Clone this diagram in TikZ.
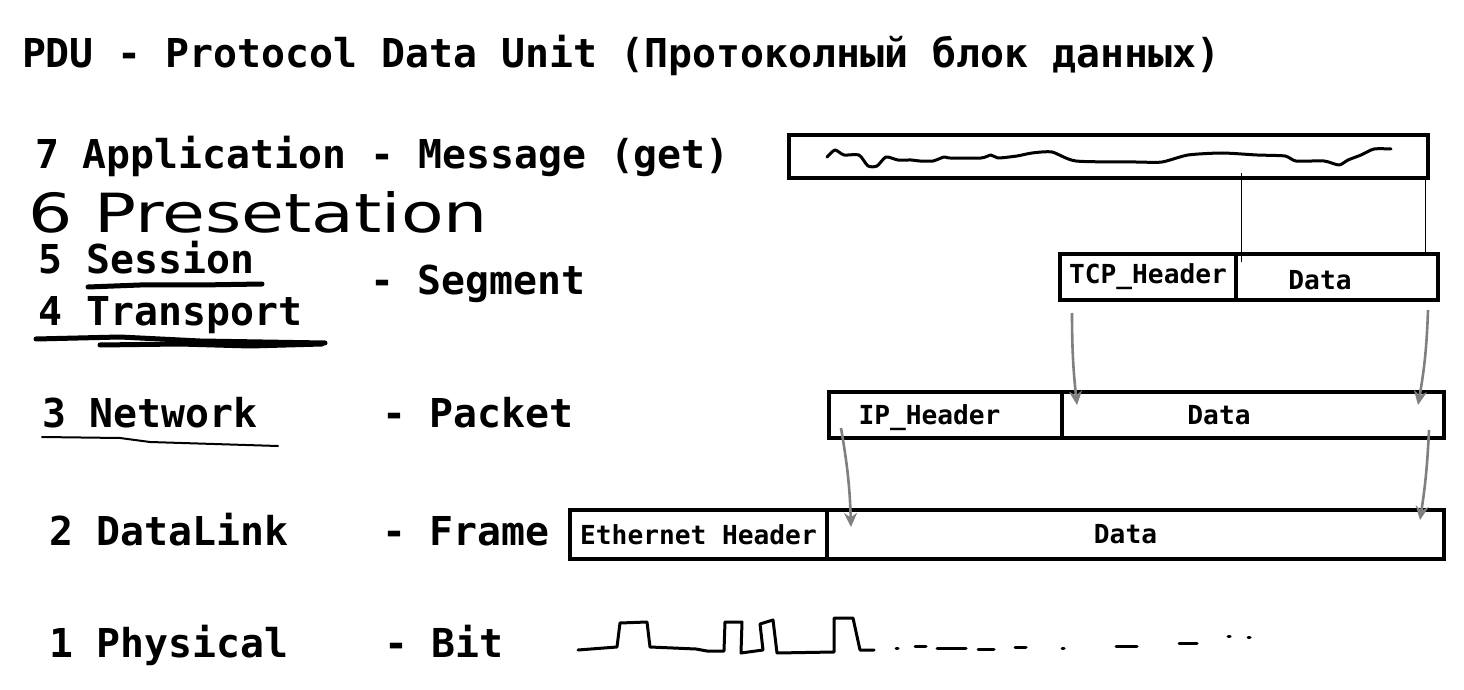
\documentclass[tikz,border=0pt]{standalone}
\usepackage{fontspec}
\setmonofont{DejaVu Sans Mono}
\newfontfamily\handfont{DejaVu Sans}
\usetikzlibrary{arrows.meta,positioning}

\begin{document}
\begin{tikzpicture}[
  x=0.5pt, y=-0.5pt,
  every node/.style={inner sep=0, outer sep=0},
  row/.style={anchor=base west, font=\ttfamily\bfseries\fontsize{19.9}{24}\selectfont},
  cell/.style={draw, line width=2.2pt, minimum height=23pt, font=\ttfamily\bfseries\fontsize{13.1}{16}\selectfont},
  every label/.style={font=\ttfamily\bfseries\fontsize{13.1}{16}\selectfont},
  link/.style={draw=gray, line width=1.3pt, -{Stealth[length=7pt,width=6.5pt]}},
  pen/.style={line cap=round, line join=round, line width=1.5pt}
]
\useasboundingbox (0,0) rectangle (1464,690);

% title and layers
\node[row] (title) at (22,68) {PDU - Protocol Data Unit (Протоколный блок данных)};
\node[row] (l7) at (35,169) {7 Application - Message (get)};
\node[anchor=base west, text depth=0pt, xscale=1.29, transform shape,
  font=\handfont\fontsize{27}{30}\selectfont] (l6) at (28,233) {6 Presetation};
\node[row] (l5) at (39,274) {5 Session};
\node[row] (l4) at (39,326) {4 Transport};
\node[row] (pdu4) at (370,294) {- Segment};
\node[row] (l3) at (42,427) {3 Network};
\node[row] (pdu3) at (382,427) {- Packet};
\node[row] (l2) at (49,545) {2 DataLink};
\node[row] (pdu2) at (382,545) {- Frame};
\node[row] (l1) at (49,657) {1 Physical};
\node[row] (pdu1) at (384,657) {- Bit};

% underlines
\draw[pen, line width=2.5pt] (88,287) -- (140,285) -- (200,285) -- (262,284);
\draw[pen, line width=2.5pt] (36,339) -- (120,337) -- (200,341) -- (325,343);
\draw[pen, line width=2.5pt] (100,345) -- (180,344) -- (250,346) -- (322,344);
\draw[pen, line width=1pt] (42,437) -- (120,438) -- (150,442) -- (278,446);

% message
\node[cell, minimum width=319.5pt, minimum height=21.5pt] (msg) at (1108.5,156.5) {};
\draw[pen] plot[smooth, tension=0.4] coordinates {(827,157) (835,150) (844,155) (859,155)
  (868,166) (877,166) (886,157) (898,160) (911,160) (920,161) (933,161) (944,157) (950,158)
  (981,158) (991,155) (998,158) (1017,156) (1032,153) (1052,152) (1076,161) (1136,162)
  (1162,162) (1188,155) (1222,153) (1257,155) (1285,156) (1296,161) (1324,161) (1339,165)
  (1348,160) (1361,155) (1374,149) (1391,149)};

% segment
\node[cell, minimum width=88pt] (tcphdr) at (1148,277) {TCP\_Header};
\node[cell, minimum width=101pt, right=0pt of tcphdr, label={[xshift=-8.5pt, yshift=-1.5pt]center:Data}] (segdata) {};
\coordinate (m1) at (1241,173);
\coordinate (m2) at (1241,262);
\coordinate (m3) at (1425,178);
\coordinate (m4) at (1425,252);
\draw[line width=0.5pt] (m1) -- (m2);
\draw[line width=0.5pt] (m3) -- (m4);

% packet
\node[cell, minimum width=116.5pt, label={[xshift=-8pt, yshift=-1.5pt]center:IP\_Header}] (iphdr) at (945.5,415) {};
\node[cell, minimum width=191pt, right=0pt of iphdr, label={[xshift=-17pt]center:Data}] (pktdata) {};
\coordinate (a1) at (1072,313);
\coordinate (a2) at (1077,405);
\coordinate (a3) at (1428,310);
\coordinate (a4) at (1418,405);
\draw[link] (a1) to[bend right=3] (a2);
\draw[link] (a3) to[bend left=4] (a4);

% frame
\node[cell, minimum width=128.5pt, minimum height=24.5pt] (ethhdr) at (698.5,534.5) {Ethernet Header};
\node[cell, minimum width=308.5pt, minimum height=24.5pt, right=0pt of ethhdr, label={[xshift=-5pt]center:Data}] (frmdata) {};
\coordinate (b1) at (841,428);
\coordinate (b2) at (851,527);
\coordinate (b3) at (1429,430);
\coordinate (b4) at (1420,520);
\draw[link] (b1) to[bend left=4] (b2);
\draw[link] (b3) to[bend left=3] (b4);

% bits
\draw[pen] (578,650) -- (617,647) -- (620,623) -- (647,622) -- (650,647) -- (696,649)
  -- (707,651) -- (724,651) -- (725,622) -- (742,622) -- (741,653) -- (763,650) -- (760,624)
  -- (773,620) -- (777,653) -- (834,652) -- (834,618) -- (853,618) -- (860,650) -- (874,650);
\foreach \xa/\xb/\yy in {896/898/648, 915/926/646, 937/966/648, 978/994/649, 1015/1026/647,
  1062/1064/648, 1116/1137/646, 1179/1197/643, 1228/1230/636, 1248/1250/637}
  \draw[pen] (\xa,\yy) -- (\xb,\yy);
\end{tikzpicture}
\end{document}
